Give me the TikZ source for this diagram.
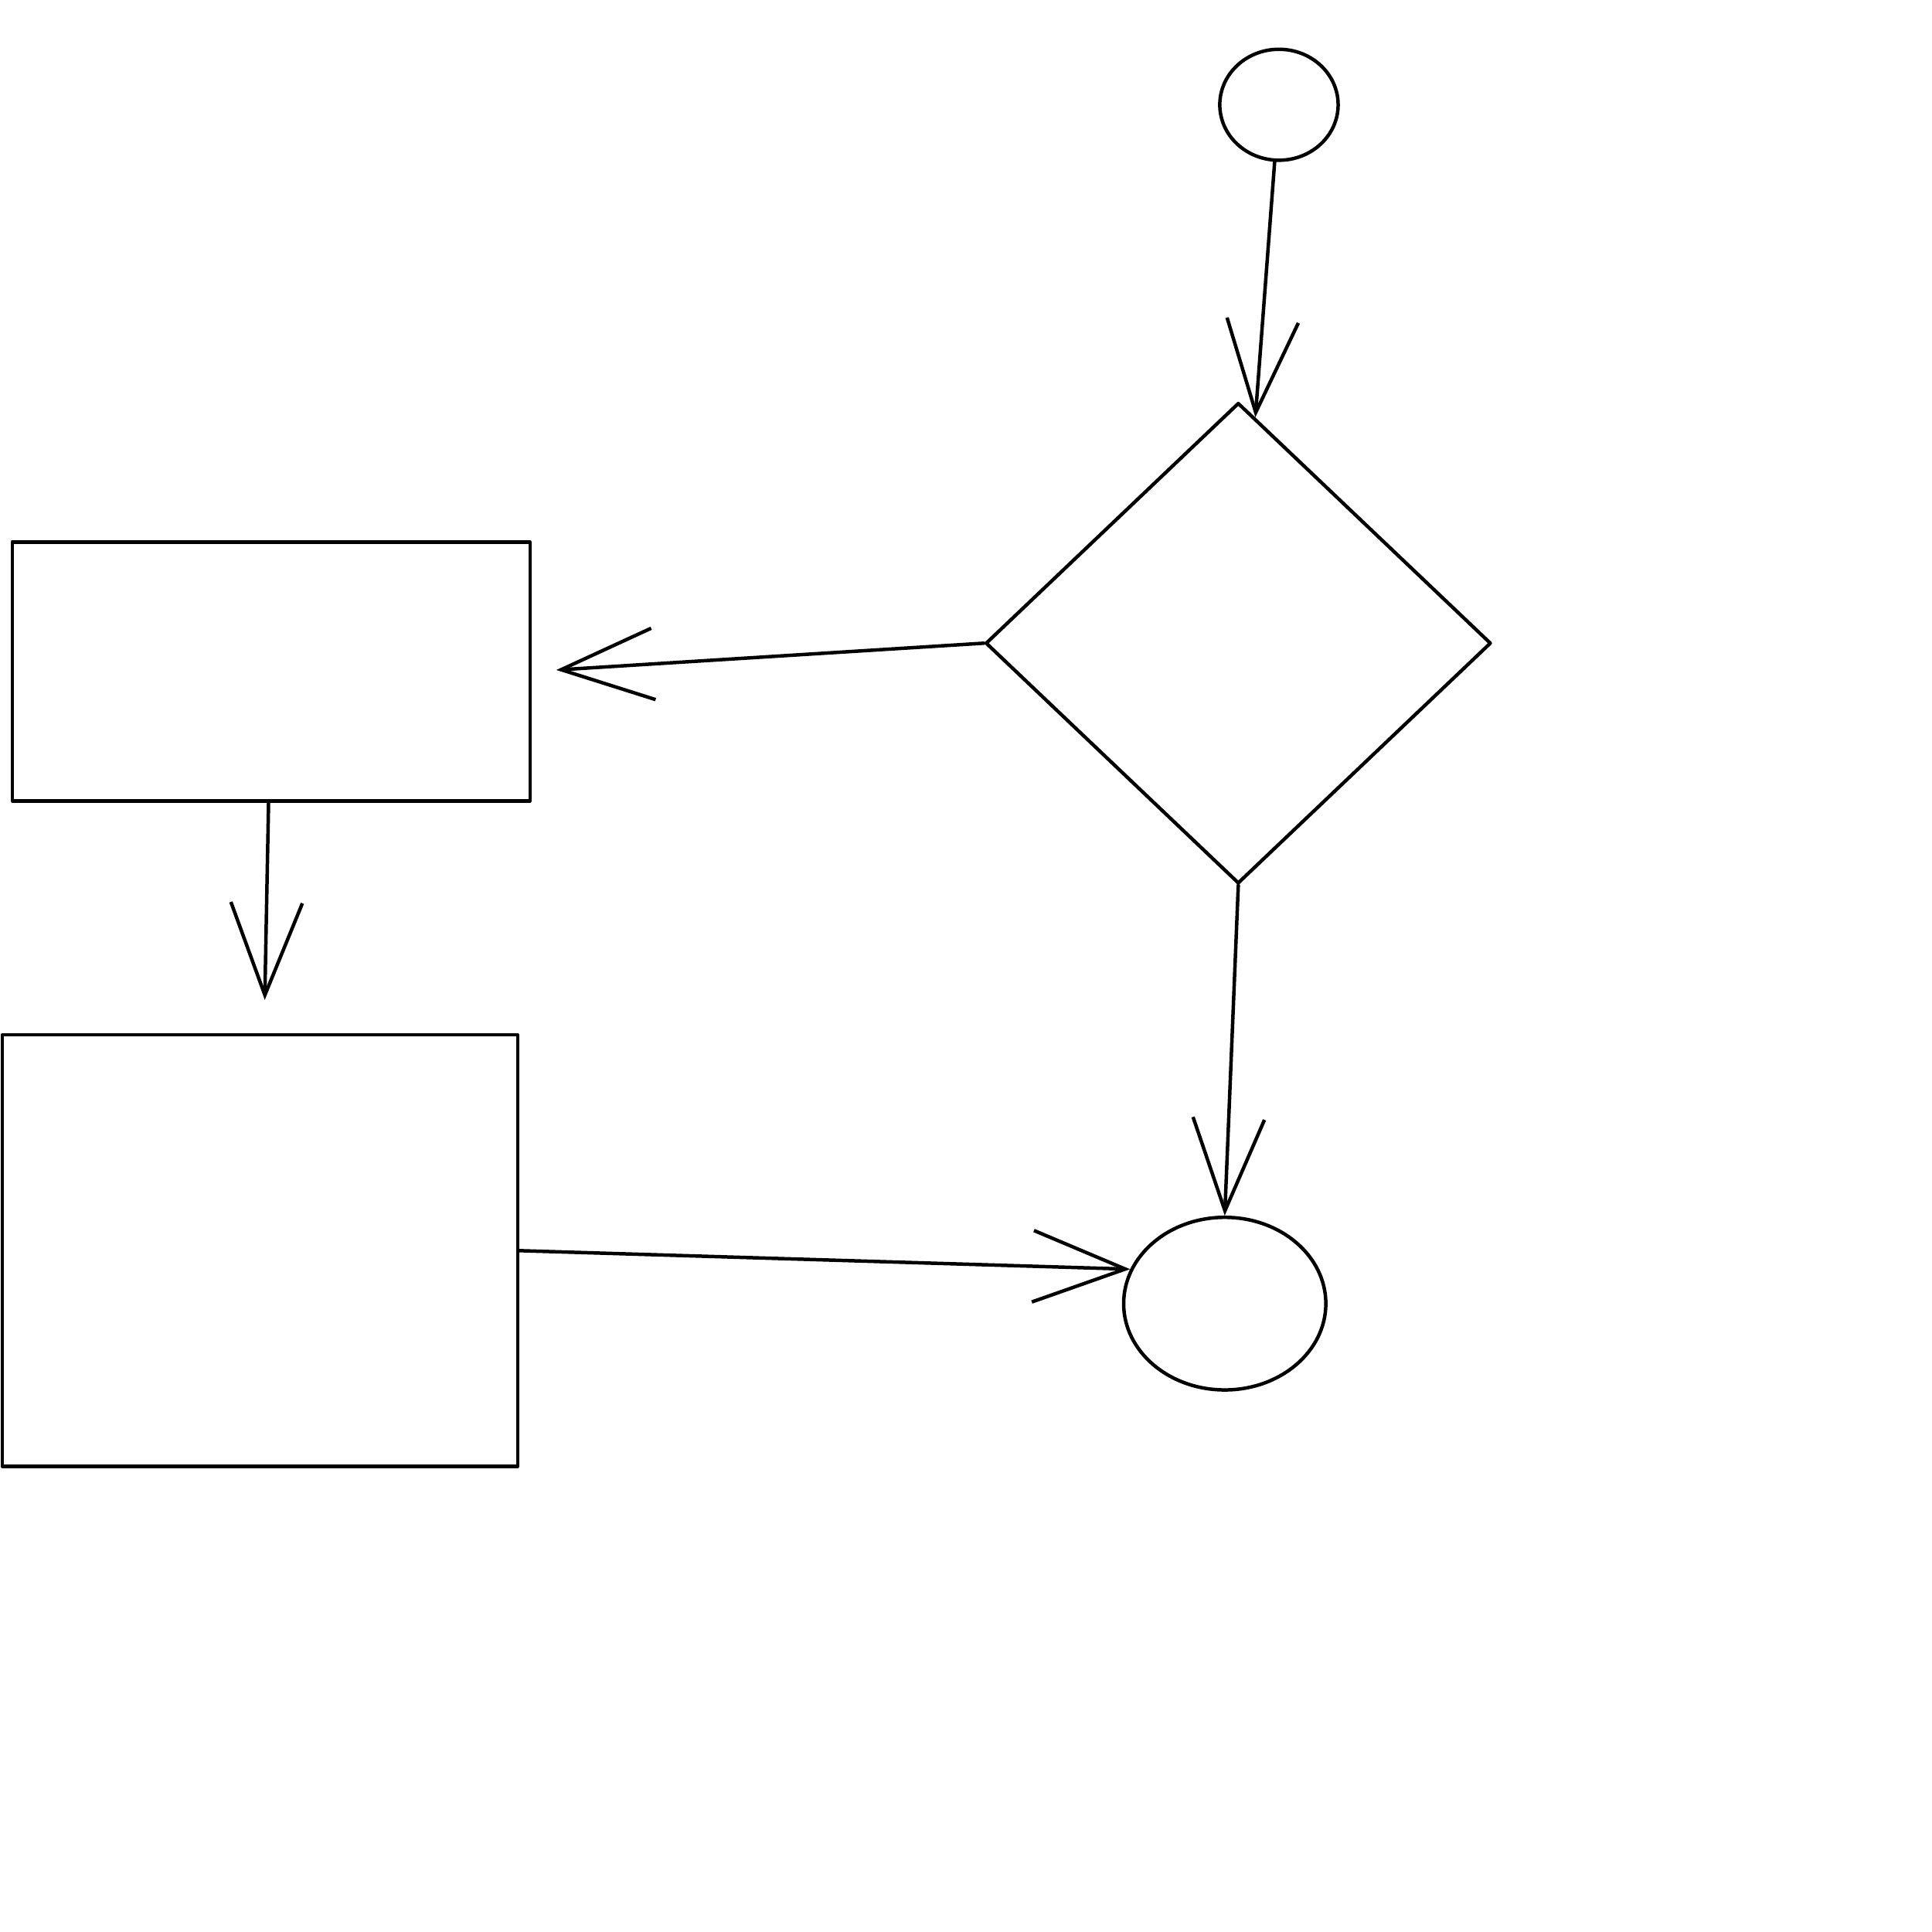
\documentclass[tikz,border=0pt]{standalone}
\usepackage{tikz}
\usetikzlibrary{arrows.meta,shapes.geometric}

\begin{document}
\begin{tikzpicture}[line cap=round,line join=round,x=0.01cm,y=-0.01cm,
  >={Straight Barb[length=7.5mm,width=5.8mm]},
  box/.style={draw,line width=0.8pt,inner sep=0pt},
  flow/.style={->,line width=0.8pt}]
  \useasboundingbox (0,0) rectangle (1568,1568);
  \node[box,ellipse,minimum width=0.96cm,minimum height=0.9cm] (start) at (1038,85) {};
  \node[box,diamond,minimum width=4.1cm,minimum height=3.9cm] (decide) at (1005,522) {};
  \node[box,rectangle,minimum width=4.2cm,minimum height=2.1cm] (procA) at (220,545) {};
  \node[box,rectangle,minimum width=4.18cm,minimum height=3.5cm] (procB) at (211,1015) {};
  \node[box,ellipse,minimum width=1.64cm,minimum height=1.4cm] (stop) at (994,1058) {};
  \draw[flow] (start) -- (decide);
  \draw[flow,shorten >=0.2cm] (decide.west) -- (procA.east);
  \draw[flow,shorten >=0.27cm] (procA) -- (procB);
  \draw[flow] (procB.east) -- (stop.160);
  \draw[flow] (decide.south) -- (stop.north);
\end{tikzpicture}
\end{document}
